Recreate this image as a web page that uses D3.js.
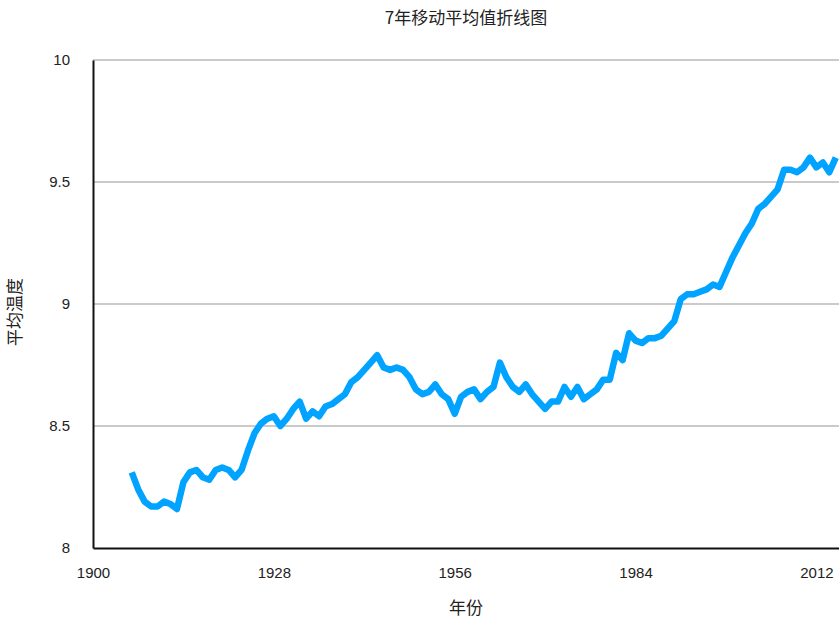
<!DOCTYPE html>
<html>
<head>
<meta charset="utf-8">
<script src="https://cdn.jsdelivr.net/npm/d3@7"></script>
<style>
  html, body { margin: 0; padding: 0; background: #fff; }
  svg { display: block; }
  text { font-family: "Liberation Sans", Arial, "Noto Sans CJK SC", sans-serif; fill: #222; }
  .cjk { font-family: "Noto Sans CJK SC", "Liberation Sans", sans-serif; }
</style>
</head>
<body>
<svg id="chart" width="839" height="622"></svg>
<script>
const startYear = 1906;
const values = [
  8.31, 8.24, 8.19, 8.17, 8.17, 8.19, 8.18, 8.16, 8.27, 8.31,
  8.32, 8.29, 8.28, 8.32, 8.33, 8.32, 8.29, 8.32, 8.40, 8.47,
  8.51, 8.53, 8.54, 8.50, 8.53, 8.57, 8.60, 8.53, 8.56, 8.54,
  8.58, 8.59, 8.61, 8.63, 8.68, 8.70, 8.73, 8.76, 8.79, 8.74,
  8.73, 8.74, 8.73, 8.70, 8.65, 8.63, 8.64, 8.67, 8.63, 8.61,
  8.55, 8.62, 8.64, 8.65, 8.61, 8.64, 8.66, 8.76, 8.70, 8.66,
  8.64, 8.67, 8.63, 8.60, 8.57, 8.60, 8.60, 8.66, 8.62, 8.66,
  8.61, 8.63, 8.65, 8.69, 8.69, 8.80, 8.77, 8.88, 8.85, 8.84,
  8.86, 8.86, 8.87, 8.90, 8.93, 9.02, 9.04, 9.04, 9.05, 9.06,
  9.08, 9.07, 9.13, 9.19, 9.24, 9.29, 9.33, 9.39, 9.41, 9.44,
  9.47, 9.55, 9.55, 9.54, 9.56, 9.60, 9.56, 9.58, 9.54, 9.60
];
const years = values.map((v, i) => startYear + i);
const xTicks = [1900, 1928, 1956, 1984, 2012];
const yTicks = [8, 8.5, 9, 9.5, 10];
const yTickLabels = ["8", "8.5", "9", "9.5", "10"];
const title = "7年移动平均值折线图";
const xTitle = "年份";
const yTitle = "平均温度";

(function () {
const svg = d3.select("#chart");
const mLeft = 93, mRight = 839, mTop = 60, mBottom = 548;

const x = d3.scaleLinear().domain([1900, 2015.5]).range([mLeft, mRight]);
const y = d3.scaleLinear().domain([8, 10]).range([mBottom, mTop]);

// gridlines
svg.append("g").selectAll("line").data(yTicks.filter(t => t > 8)).join("line")
  .attr("x1", mLeft).attr("x2", mRight)
  .attr("y1", d => y(d)).attr("y2", d => y(d))
  .attr("stroke", "#b8b8b8").attr("stroke-width", 1.5);

// y axis
const yAxis = d3.axisLeft(y).tickValues(yTicks)
  .tickFormat((d, i) => yTickLabels[i]).tickSize(0).tickPadding(23);
const gy = svg.append("g").attr("transform", `translate(${mLeft},0)`).call(yAxis);
gy.select(".domain").attr("stroke", "#111").attr("stroke-width", 2);
gy.selectAll("text").style("font-size", "15px").attr("fill", "#222");

// x axis
const xAxis = d3.axisBottom(x).tickValues(xTicks).tickFormat(d3.format("d"))
  .tickSize(0).tickPadding(19);
const gx = svg.append("g").attr("transform", `translate(0,${mBottom})`).call(xAxis);
gx.select(".domain").attr("stroke", "#111").attr("stroke-width", 2);
gx.selectAll("text").style("font-size", "15px").attr("fill", "#222");

// line
const line = d3.line().x((d, i) => x(years[i])).y(d => y(d));
svg.append("path").datum(values)
  .attr("d", line)
  .attr("fill", "none")
  .attr("stroke", "#00a3ff")
  .attr("stroke-width", 6.5)
  .attr("stroke-linejoin", "round")
  .attr("stroke-linecap", "butt");

// titles
svg.append("text").attr("class", "cjk")
  .attr("x", (mLeft + mRight) / 2).attr("y", 24)
  .attr("text-anchor", "middle").style("font-size", "17px").text(title);
svg.append("text").attr("class", "cjk")
  .attr("x", (mLeft + mRight) / 2).attr("y", 614)
  .attr("text-anchor", "middle").style("font-size", "17px").text(xTitle);
svg.append("text").attr("class", "cjk")
  .attr("transform", `translate(21,${(mTop + mBottom) / 2 + 8}) rotate(-90)`)
  .attr("text-anchor", "middle").style("font-size", "17px").text(yTitle);
})();
</script>
</body>
</html>
